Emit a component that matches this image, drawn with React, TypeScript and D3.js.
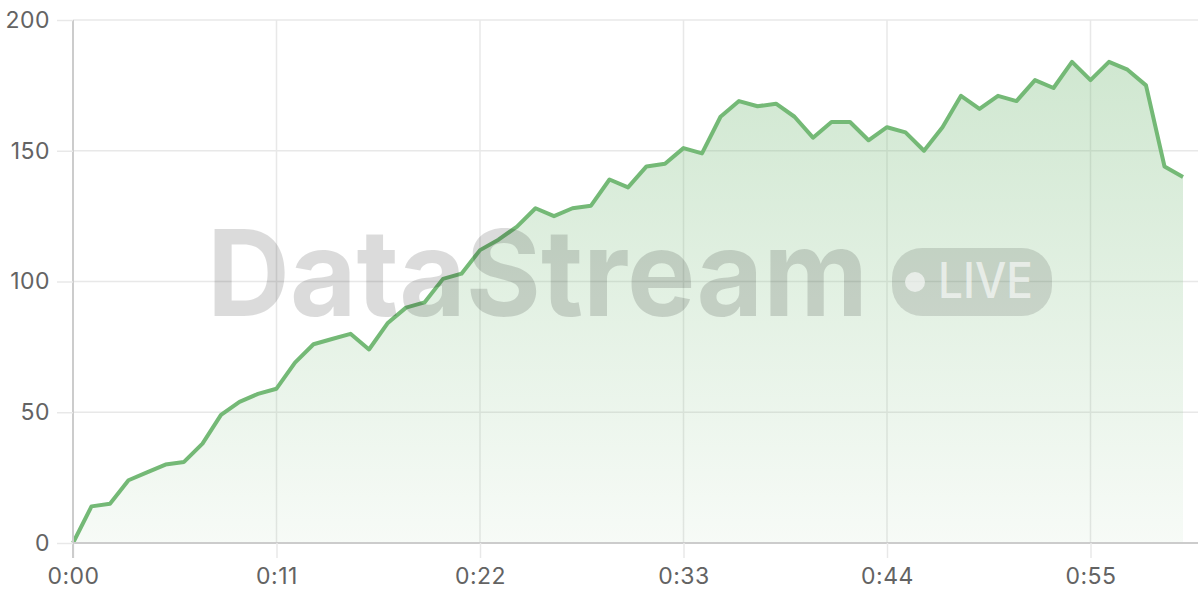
import { useRef, useEffect } from 'react';
import * as d3 from 'd3';

// seconds since start, one sample per second
const seconds = d3.range(0, 61);
const values = [
  0, 14, 15, 24, 27, 30, 31, 38, 49, 54, 57, 59, 69, 76, 78, 80, 74, 84, 90, 92,
  101, 103, 112, 116, 121, 128, 125, 128, 129, 139, 136, 144, 145, 151, 149, 163,
  169, 167, 168, 163, 155, 161, 161, 154, 159, 157, 150, 159, 171, 166, 171, 169,
  177, 174, 184, 177, 184, 181, 175, 144, 140,
];
const xTicks = [0, 11, 22, 33, 44, 55];
const yTicks = [0, 50, 100, 150, 200];

const W = 1200;
const H = 600;
const GREEN = '#74b976';

const fmt = (s: number) => `${Math.floor(s / 60)}:${String(s % 60).padStart(2, '0')}`;

export default function App() {
  const svgRef = useRef<SVGSVGElement>(null);

  useEffect(() => {
    if (!svgRef.current) return;
    const svg = d3.select(svgRef.current);
    svg.selectAll('*').remove();

    const margin = { top: 20, right: 17, bottom: 57, left: 73 };
    const x = d3.scaleLinear().domain([0, 60]).range([margin.left, W - margin.right]);
    const y = d3.scaleLinear().domain([0, 200]).range([H - margin.bottom, margin.top]);
    const data = seconds.map((s, i) => ({ s, v: values[i] }));

    const defs = svg.append('defs');
    const grad = defs
      .append('linearGradient')
      .attr('id', 'areaFill')
      .attr('x1', 0)
      .attr('y1', 0)
      .attr('x2', 0)
      .attr('y2', 1);
    grad.append('stop').attr('offset', '0%').attr('stop-color', GREEN).attr('stop-opacity', 0.34);
    grad.append('stop').attr('offset', '100%').attr('stop-color', GREEN).attr('stop-opacity', 0.06);

    // grid
    const grid = svg.append('g');
    grid
      .selectAll('.hgrid')
      .data(yTicks.filter((t) => t > 0))
      .enter()
      .append('line')
      .attr('x1', margin.left)
      .attr('x2', W - 2)
      .attr('y1', (d) => y(d))
      .attr('y2', (d) => y(d))
      .attr('stroke', '#e8e8e8')
      .attr('stroke-width', 1.5);
    grid
      .selectAll('.vgrid')
      .data(xTicks.filter((t) => t > 0))
      .enter()
      .append('line')
      .attr('x1', (d) => x(d))
      .attr('x2', (d) => x(d))
      .attr('y1', margin.top)
      .attr('y2', H - margin.bottom)
      .attr('stroke', '#e8e8e8')
      .attr('stroke-width', 1.5);

    // area + line
    const area = d3
      .area<{ s: number; v: number }>()
      .x((d) => x(d.s))
      .y0(y(0))
      .y1((d) => y(d.v));
    const line = d3
      .line<{ s: number; v: number }>()
      .x((d) => x(d.s))
      .y((d) => y(d.v));

    svg.append('path').datum(data).attr('d', area).attr('fill', 'url(#areaFill)');
    svg
      .append('path')
      .datum(data)
      .attr('d', line)
      .attr('fill', 'none')
      .attr('stroke', GREEN)
      .attr('stroke-width', 4)
      .attr('stroke-linejoin', 'round');

    // axes
    const xAxis = svg
      .append('g')
      .attr('transform', `translate(0,${H - margin.bottom})`)
      .call(
        d3
          .axisBottom(x)
          .tickValues(xTicks)
          .tickFormat((d) => fmt(+d))
          .tickSize(15)
          .tickPadding(10)
          .tickSizeOuter(0)
      );
    xAxis.select('.domain').attr('stroke', '#cccccc').attr('stroke-width', 2).attr('d', `M${margin.left},0H${W - 2}`);
    xAxis.selectAll('.tick line').attr('stroke', '#e8e8e8').attr('stroke-width', 1.5);

    const yAxis = svg
      .append('g')
      .attr('transform', `translate(${margin.left},0)`)
      .call(d3.axisLeft(y).tickValues(yTicks).tickSize(16).tickPadding(7).tickSizeOuter(0));
    yAxis.select('.domain').attr('stroke', '#cccccc').attr('stroke-width', 2).attr('d', `M0,${margin.top}V${H - margin.bottom + 15}`);
    yAxis.selectAll('.tick line').attr('stroke', '#e8e8e8').attr('stroke-width', 1.5);

    svg
      .selectAll('.tick text')
      .attr('fill', '#636363')
      .style('font-family', 'Inter, "DejaVu Sans", sans-serif')
      .style('font-size', '23px')
      .style('letter-spacing', '0.5px');

    // watermark
    const wm = svg.append('g').attr('pointer-events', 'none');
    wm.append('text')
      .attr('x', 207)
      .attr('y', 316)
      .attr('textLength', 661)
      .attr('lengthAdjust', 'spacingAndGlyphs')
      .attr('fill', 'rgba(0,0,0,0.14)')
      .style('font-family', 'Inter, "DejaVu Sans", sans-serif')
      .style('font-weight', 700)
      .style('font-size', '120px')
      .text('DataStream');
    wm.append('rect')
      .attr('x', 892)
      .attr('y', 248)
      .attr('width', 160)
      .attr('height', 68)
      .attr('rx', 30)
      .attr('fill', 'rgba(0,0,0,0.12)');
    wm.append('circle').attr('cx', 915).attr('cy', 282).attr('r', 10).attr('fill', 'rgba(255,255,255,0.6)');
    wm.append('text')
      .attr('x', 938)
      .attr('y', 298)
      .attr('textLength', 95)
      .attr('lengthAdjust', 'spacingAndGlyphs')
      .attr('fill', 'rgba(255,255,255,0.6)')
      .style('font-family', 'Inter, "DejaVu Sans", sans-serif')
      .style('font-weight', 500)
      .style('font-size', '50px')
      .text('LIVE');
  }, []);

  return (
    <div style={{ position: 'fixed', left: 0, top: 0, width: W, height: H, background: '#fff' }}>
      <svg ref={svgRef} width={W} height={H} style={{ display: 'block' }} />
    </div>
  );
}
